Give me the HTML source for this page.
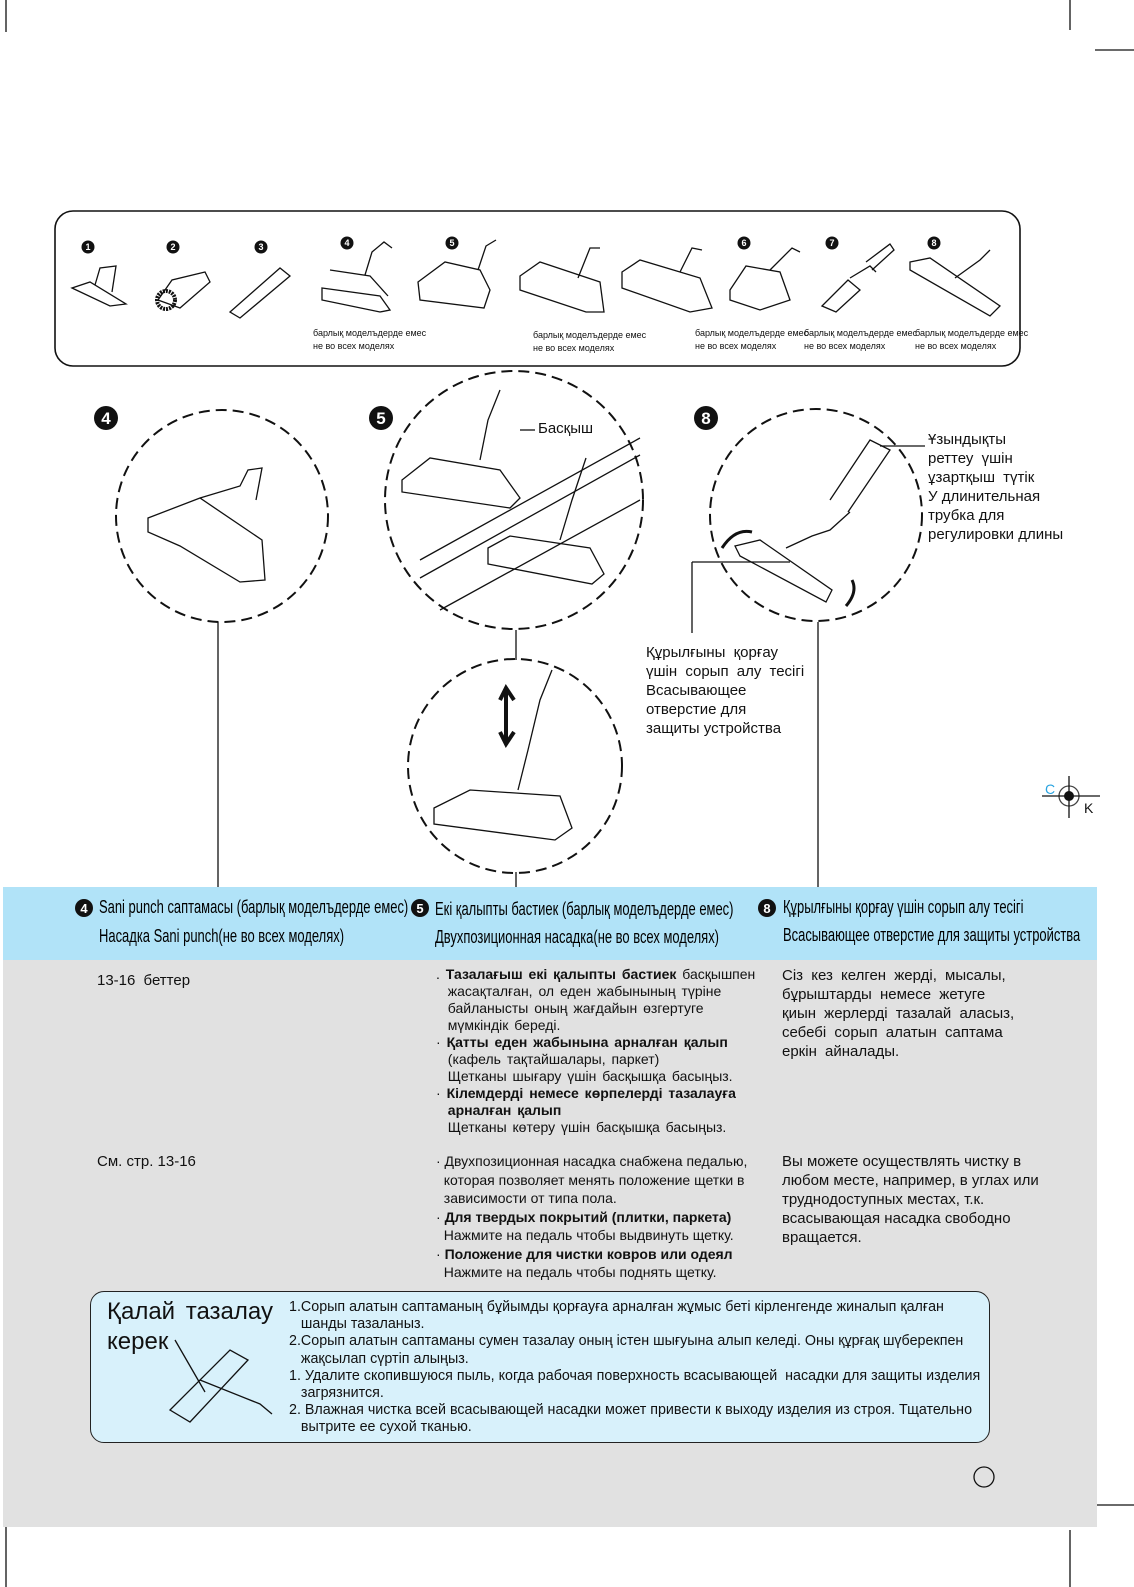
<!DOCTYPE html>
<html><head><meta charset="utf-8"><style>
body{margin:0;width:1134px;height:1587px;position:relative;background:#fff;font-family:"Liberation Sans",sans-serif;color:#111;overflow:hidden}
.a{position:absolute;white-space:nowrap}
.n{font-family:"Liberation Sans Narrow","Liberation Sans",sans-serif}
.t{font-size:14px;line-height:17px}
.r{font-size:15px;line-height:19px}
.k{word-spacing:4px}
.s{font-size:9px;line-height:13px;font-family:"Liberation Sans Narrow","Liberation Sans",sans-serif}
.h{font-size:18px;font-family:"Liberation Sans Narrow","Liberation Sans",sans-serif;transform:scaleX(.72);transform-origin:left;color:#000}
b{font-weight:bold}
</style></head><body>
<div class="a" style="left:3px;top:887px;width:1094px;height:73px;background:#b1e3f8"></div>
<div class="a" style="left:3px;top:960px;width:1094px;height:567px;background:#e1e1e1"></div>
<div class="a" style="left:90px;top:1291px;width:898px;height:150px;background:#d8f1fb;border:1.5px solid #222;border-radius:14px"></div>

<svg class="a" style="left:0;top:0" width="1134" height="1587" viewBox="0 0 1134 1587">
<g stroke="#111" fill="none" stroke-width="1.3">
<line x1="6" y1="0" x2="6" y2="32"/><line x1="1070" y1="0" x2="1070" y2="30"/><line x1="1095" y1="50" x2="1134" y2="50"/>
<line x1="6" y1="1527" x2="6" y2="1587"/><line x1="1070" y1="1530" x2="1070" y2="1587"/><line x1="1097" y1="1505" x2="1134" y2="1505"/>
<rect x="55" y="211" width="965" height="155" rx="18" stroke-width="1.6"/>
<g stroke-dasharray="11 6" stroke-width="2">
<circle cx="222" cy="516" r="106"/><circle cx="514" cy="500" r="129"/><circle cx="816" cy="515" r="106"/><circle cx="515" cy="766" r="107"/>
</g>
<line x1="218" y1="622" x2="218" y2="887"/><line x1="516" y1="630" x2="516" y2="660"/><line x1="516" y1="872" x2="516" y2="887"/>
<line x1="818" y1="622" x2="818" y2="887"/><line x1="692" y1="562" x2="692" y2="633"/><line x1="692" y1="562" x2="790" y2="562"/>
<line x1="880" y1="446" x2="925" y2="446"/><line x1="520" y1="430" x2="535" y2="430"/>
<path d="M72 288 L110 306 L126 304 L90 282 Z M95 285 L100 268 L116 266 L112 292"/>
<path d="M158 300 L172 280 L205 272 L210 282 L180 308 Z"/><circle cx="166" cy="300" r="9" stroke-width="4" stroke-dasharray="2 1"/>
<path d="M230 312 L280 268 L290 276 L240 318 Z"/>
<path d="M322 288 L380 296 L390 310 L380 312 L322 300 Z M330 270 L370 276 L388 296 M365 275 L372 252 L384 242 L392 248"/>
<path d="M418 282 L445 262 L480 270 L490 290 L484 308 L420 300 Z M478 270 L486 246 L496 240"/>
<path d="M520 276 L540 262 L600 282 L604 312 L586 312 L520 290 Z M578 278 L590 248 L600 248"/>
<path d="M622 272 L640 260 L700 278 L712 308 L690 312 L622 288 Z M680 272 L692 248 L702 250"/>
<path d="M730 290 L746 266 L780 272 L790 300 L760 310 L730 300 Z M770 270 L792 248 L800 252"/>
<path d="M822 306 L848 280 L860 290 L836 312 Z M850 278 L870 266 L876 272 M866 262 L890 244 L894 250 L872 270"/>
<path d="M910 262 L930 258 L1000 306 L990 316 L910 270 Z M955 278 L980 260 L990 250"/>
<path d="M148 518 L200 498 L262 540 L265 580 L240 582 L180 546 L148 532 Z M200 498 L240 486 L248 470 L262 468 L256 500"/>
<path d="M402 480 L430 458 L500 470 L520 498 L510 508 L402 492 Z M480 460 L488 420 L500 390"/>
<path d="M488 548 L510 536 L590 548 L604 574 L592 584 L488 564 Z M560 540 L572 500 L586 458"/>
<path d="M420 578 L640 455 M420 560 L640 438 M440 610 L640 500"/>
<path d="M434 808 L470 790 L560 796 L572 828 L555 840 L434 824 Z M518 790 L528 750 L540 700 L552 670"/>
<path d="M506 742 L506 690 M500 700 L506 688 L514 700 M500 732 L506 744 L514 732" stroke-width="4"/>
<path d="M735 546 L760 540 L832 590 L826 602 L740 556 Z M786 548 L812 536 L830 530 L850 512 M830 500 L870 440 L890 450 L848 512"/>
<path d="M722 548 Q735 528 752 532 M846 606 Q858 592 852 580" stroke-width="3"/>
<path d="M170 1410 L230 1350 L248 1360 L190 1422 Z M200 1380 L260 1404 L272 1414 M175 1340 L205 1392"/>
<circle cx="984" cy="1477" r="10" stroke-width="1.3"/>
<circle cx="1069" cy="796" r="10" stroke="#444"/><line x1="1042" y1="796" x2="1100" y2="796"/><line x1="1069" y1="776" x2="1069" y2="818"/>
</g>
<circle cx="1069" cy="796" r="5" fill="#111"/>
<g fill="#111" font-family="Liberation Sans" font-weight="bold" text-anchor="middle">
<circle cx="88" cy="247" r="6.5"/><circle cx="173" cy="247" r="6.5"/><circle cx="261" cy="247" r="6.5"/><circle cx="347" cy="243" r="6.5"/><circle cx="452" cy="243" r="6.5"/><circle cx="744" cy="243" r="6.5"/><circle cx="832" cy="243" r="6.5"/><circle cx="934" cy="243" r="6.5"/>
<circle cx="106" cy="418" r="12"/><circle cx="381" cy="418" r="12"/><circle cx="706" cy="418" r="12"/>
<circle cx="84" cy="908" r="9"/><circle cx="420" cy="908" r="9"/><circle cx="767" cy="908" r="9"/>
<g fill="#fff" font-size="9"><text x="88" y="250">1</text><text x="173" y="250">2</text><text x="261" y="250">3</text><text x="347" y="246">4</text><text x="452" y="246">5</text><text x="744" y="246">6</text><text x="832" y="246">7</text><text x="934" y="246">8</text></g>
<g fill="#fff" font-size="17"><text x="106" y="424">4</text><text x="381" y="424">5</text><text x="706" y="424">8</text></g>
<g fill="#fff" font-size="13"><text x="84" y="913">4</text><text x="420" y="913">5</text><text x="767" y="913">8</text></g>
</g>
<text x="1045" y="794" fill="#29a3e0" font-size="14" font-family="Liberation Sans">C</text>
<text x="1084" y="813" fill="#111" font-size="14" font-family="Liberation Sans">K</text>
</svg>

<div class="a s" style="left:313px;top:327px">барлық моделъдерде емес<br>не во всех моделях</div>
<div class="a s" style="left:533px;top:329px">барлық моделъдерде емес<br>не во всех моделях</div>
<div class="a s" style="left:695px;top:327px">барлық моделъдерде емес<br>не во всех моделях</div>
<div class="a s" style="left:804px;top:327px">барлық моделъдерде емес<br>не во всех моделях</div>
<div class="a s" style="left:915px;top:327px">барлық моделъдерде емес<br>не во всех моделях</div>

<div class="a" style="left:538px;top:420px;font-size:15px">Басқыш</div>
<div class="a r" style="left:928px;top:430px"><span class="k">Ұзындықты<br>реттеу үшін<br>ұзартқыш түтік</span><br>У длинительная<br>трубка для<br>регулировки длины</div>
<div class="a r" style="left:646px;top:643px"><span class="k">Құрылғыны қорғау<br>үшін сорып алу тесігі</span><br>Всасывающее<br>отверстие для<br>защиты устройства</div>

<div class="a h" style="left:99px;top:897px">Sani punch саптамасы (барлық моделъдерде емес)</div>
<div class="a h" style="left:99px;top:926px">Насадка Sani punch(не во всех моделях)</div>
<div class="a h" style="left:435px;top:899px">Екі қалыпты бастиек (барлық моделъдерде емес)</div>
<div class="a h" style="left:435px;top:927px">Двухпозиционная насадка(не во всех моделях)</div>
<div class="a h" style="left:783px;top:897px">Құрылғыны қорғау үшін сорып алу тесігі</div>
<div class="a h" style="left:783px;top:925px">Всасывающее отверстие для защиты устройства</div>

<div class="a r k" style="left:97px;top:971px">13-16 беттер</div>
<div class="a r" style="left:97px;top:1152px">См. стр. 13-16</div>

<div class="a t n" style="left:436px;top:966px;word-spacing:2px">. <b>Тазалағыш екі қалыпты бастиек</b> басқышпен<br>&nbsp; жасақталған, ол еден жабынының түріне<br>&nbsp; байланысты оның жағдайын өзгертуге<br>&nbsp; мүмкіндік береді.<br>· <b>Қатты еден жабынына арналған қалып</b><br>&nbsp; (кафель тақтайшалары, паркет)<br>&nbsp; Щетканы шығару үшін басқышқа басыңыз.<br>· <b>Кілемдерді немесе көрпелерді тазалауға</b><br>&nbsp; <b>арналған қалып</b><br>&nbsp; Щетканы көтеру үшін басқышқа басыңыз.</div>
<div class="a n" style="left:436px;top:1152px;font-size:14px;line-height:18.5px">· Двухпозиционная насадка снабжена педалью,<br>&nbsp; которая позволяет менять положение щетки в<br>&nbsp; зависимости от типа пола.<br>· <b>Для твердых покрытий (плитки, паркета)</b><br>&nbsp; Нажмите на педаль чтобы выдвинуть щетку.<br>· <b>Положение для чистки ковров или одеял</b><br>&nbsp; Нажмите на педаль чтобы поднять щетку.</div>
<div class="a r k" style="left:782px;top:966px">Сіз кез келген жерді, мысалы,<br>бұрыштарды немесе жетуге<br>қиын жерлерді тазалай аласыз,<br>себебі сорып алатын саптама<br>еркін айналады.</div>
<div class="a r" style="left:782px;top:1152px">Вы можете осуществлять чистку в<br>любом месте, например, в углах или<br>труднодоступных местах, т.к.<br>всасывающая насадка свободно<br>вращается.</div>

<div class="a" style="left:107px;top:1297px;font-size:24px;line-height:30px;word-spacing:4px">Қалай тазалау<br>керек</div>
<div class="a n" style="left:289px;top:1299px;font-size:14.3px;line-height:17.2px">1.Сорып алатын саптаманың бұйымды қорғауға арналған жұмыс беті кірленгенде жиналып қалған<br>&nbsp;&nbsp; шанды тазаланыз.<br>2.Сорып алатын саптаманы сумен тазалау оның істен шығуына алып келеді. Оны құрғақ шүберекпен<br>&nbsp;&nbsp; жақсылап сүртіп алыңыз.<br>1. Удалите скопившуюся пыль, когда рабочая поверхность всасывающей&nbsp; насадки для защиты изделия<br>&nbsp;&nbsp; загрязнится.<br>2. Влажная чистка всей всасывающей насадки может привести к выходу изделия из строя. Тщательно<br>&nbsp;&nbsp; вытрите ее сухой тканью.</div>
</body></html>
